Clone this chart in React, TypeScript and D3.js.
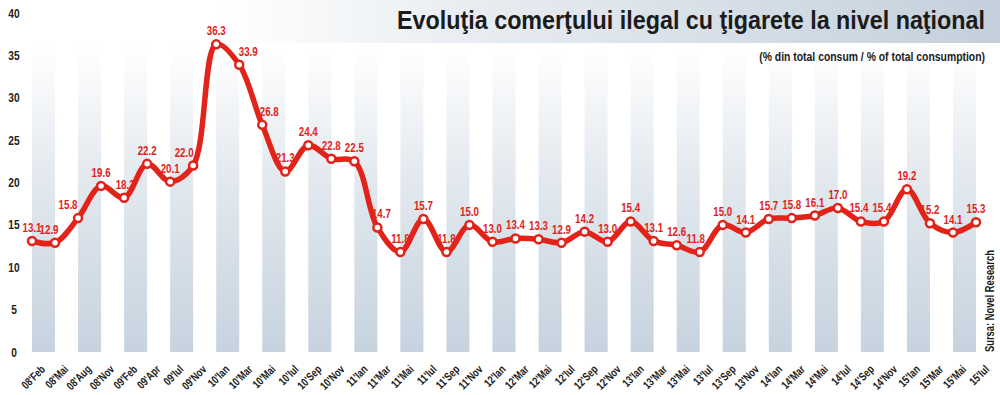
import React, { useEffect, useRef } from 'react';
import * as d3 from 'd3';

// period labels (x axis)
const periods = [
  "08'Feb", "08'Mai", "08'Aug", "08'Nov", "09'Feb", "09'Apr", "09'Iul", "09'Nov",
  "10'Ian", "10'Mar", "10'Mai", "10'Iul", "10'Sep", "10'Nov",
  "11'Ian", "11'Mar", "11'Mai", "11'Iul", "11'Sep", "11'Nov",
  "12'Ian", "12'Mar", "12'Mai", "12'Iul", "12'Sep", "12'Nov",
  "13'Ian", "13'Mar", "13'Mai", "13'Iul", "13'Sep", "13'Nov",
  "14'Ian", "14'Mar", "14'Mai", "14'Iul", "14'Sep", "14'Nov",
  "15'Ian", "15'Mar", "15'Mai", "15'Iul"
];

// illegal cigarettes share, % of total consumption
const shares = [
  13.1, 12.9, 15.8, 19.6, 18.2, 22.2, 20.1, 22.0,
  36.3, 33.9, 26.8, 21.3, 24.4, 22.8,
  22.5, 14.7, 11.8, 15.7, 11.8, 15.0,
  13.0, 13.4, 13.3, 12.9, 14.2, 13.0,
  15.4, 13.1, 12.6, 11.8, 15.0, 14.1,
  15.7, 15.8, 16.1, 17.0, 15.4, 15.4,
  19.2, 15.2, 14.1, 15.3
];

const yTicks = [0, 5, 10, 15, 20, 25, 30, 35, 40];

const titleText = 'Evoluţia comerţului ilegal cu ţigarete la nivel naţional';
const subtitleText = '(% din total consum / % of total consumption)';
const sourceText = 'Sursa: Novel Research';

const W = 1000;
const H = 395;
const RED = '#e2231a';
const FONT = "'Liberation Sans', Arial, sans-serif";
const NARROW = 0.78; // horizontal squeeze to mimic a condensed face

// a few value labels sit off-centre in the original
const labelShift: Record<number, number> = { 1: -6, 2: -10, 4: 1, 7: -9, 9: 9, 10: 7, 15: 4, 29: -4, 36: -2, 37: -2 };

const App = () => {
  const ref = useRef<SVGSVGElement | null>(null);

  useEffect(() => {
    const svg = d3.select(ref.current);
    svg.selectAll('*').remove();

    // scales
    const x = d3.scalePoint<number>()
      .domain(d3.range(periods.length))
      .range([32, 976]);
    const y = d3.scaleLinear().domain([0, 40]).range([352, 13]);
    const step = x.step();

    const defs = svg.append('defs');

    // banner gradient (white on the left, grey-blue on the right)
    const bg = defs.append('linearGradient').attr('id', 'banner')
      .attr('x1', 0).attr('x2', 1).attr('y1', 0).attr('y2', 0);
    bg.append('stop').attr('offset', '0.22').attr('stop-color', '#ffffff');
    bg.append('stop').attr('offset', '0.5').attr('stop-color', '#e6ebf0');
    bg.append('stop').attr('offset', '1').attr('stop-color', '#c3d0dc');

    // stripe gradient (fading upward)
    const sg = defs.append('linearGradient').attr('id', 'stripe')
      .attr('x1', 0).attr('x2', 0).attr('y1', 0).attr('y2', 1);
    sg.append('stop').attr('offset', '0').attr('stop-color', '#ffffff');
    sg.append('stop').attr('offset', '0.45').attr('stop-color', '#e2e8ee');
    sg.append('stop').attr('offset', '1').attr('stop-color', '#c6d3df');

    svg.append('rect')
      .attr('x', 0).attr('y', 0).attr('width', W).attr('height', 43)
      .attr('fill', 'url(#banner)');

    // alternating vertical stripes
    svg.append('g')
      .selectAll('rect')
      .data(d3.range(0, periods.length, 2))
      .enter()
      .append('rect')
      .attr('x', d => x(d)!)
      .attr('y', 45)
      .attr('width', step)
      .attr('height', y(0) - 45)
      .attr('fill', 'url(#stripe)');

    // right-aligned text squeezed to a target width
    const fitText = (txt: string, right: number, base: number, size: number, target: number) => {
      const t = svg.append('text')
        .attr('text-anchor', 'end')
        .style('font-family', FONT)
        .style('font-weight', 'bold')
        .style('font-size', `${size}px`)
        .attr('fill', '#1b1b1b')
        .text(txt);
      const w = (t.node() as SVGTextElement).getComputedTextLength() || target;
      t.attr('transform', `translate(${right},${base}) scale(${target / w},1)`);
    };

    fitText(titleText, 985, 29, 26, 588);
    fitText(subtitleText, 985, 61, 12, 226);

    // y axis labels
    svg.append('g')
      .selectAll('text')
      .data(yTicks)
      .enter()
      .append('text')
      .attr('transform', d => `translate(14,${y(d) + 4.5}) scale(0.85,1)`)
      .attr('text-anchor', 'middle')
      .style('font-family', FONT)
      .style('font-weight', 'bold')
      .style('font-size', '12px')
      .attr('fill', '#222')
      .text(d => d);

    // x axis labels, rotated
    svg.append('g')
      .selectAll('text')
      .data(periods)
      .enter()
      .append('text')
      .attr('transform', (d, i) => `translate(${x(i)! + 14},370) rotate(-45) scale(${NARROW},1)`)
      .attr('text-anchor', 'end')
      .style('font-family', FONT)
      .style('font-weight', 'bold')
      .style('font-size', '11.5px')
      .attr('fill', '#222')
      .text(d => d);

    // value labels (behind the line)
    svg.append('g')
      .selectAll('text')
      .data(shares)
      .enter()
      .append('text')
      .attr('transform', (d, i) => `translate(${x(i)! + (labelShift[i] || 0)},${y(d) - 9}) scale(${NARROW},1)`)
      .attr('text-anchor', 'middle')
      .style('font-family', FONT)
      .style('font-weight', 'bold')
      .style('font-size', '12.5px')
      .attr('fill', RED)
      .text(d => d.toFixed(1));

    // line
    const line = d3.line<number>()
      .x((d, i) => x(i)!)
      .y(d => y(d))
      .curve(d3.curveCatmullRom.alpha(0.5));

    svg.append('path')
      .datum(shares)
      .attr('d', line)
      .attr('fill', 'none')
      .attr('stroke', RED)
      .attr('stroke-width', 5.5)
      .attr('stroke-linejoin', 'round');

    // markers
    svg.append('g')
      .selectAll('circle')
      .data(shares)
      .enter()
      .append('circle')
      .attr('cx', (d, i) => x(i)!)
      .attr('cy', d => y(d))
      .attr('r', 4)
      .attr('fill', '#fff')
      .attr('stroke', RED)
      .attr('stroke-width', 2.5);

    // source, rotated
    svg.append('text')
      .attr('transform', `translate(994,352) rotate(-90) scale(${NARROW},1)`)
      .attr('text-anchor', 'start')
      .style('font-family', FONT)
      .style('font-weight', 'bold')
      .style('font-size', '12px')
      .attr('fill', '#1b1b1b')
      .text(sourceText);
  }, []);

  return (
    <svg
      ref={ref}
      width={W}
      height={H}
      style={{ position: 'absolute', left: 0, top: 0, background: '#fff' }}
    />
  );
};

export default App;
